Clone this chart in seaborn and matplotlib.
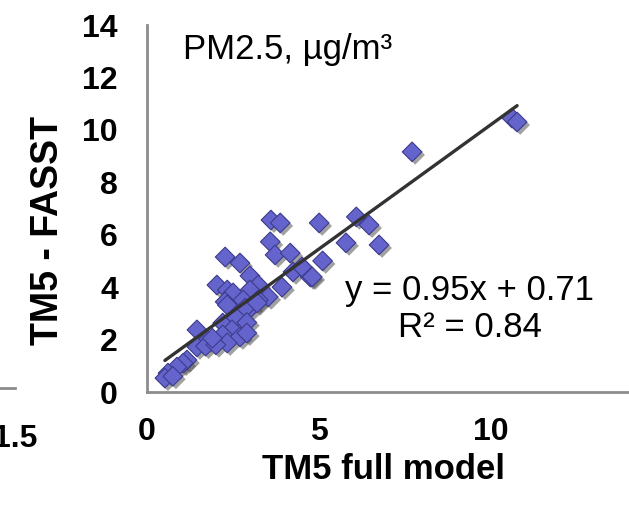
import matplotlib
matplotlib.use("Agg")
import matplotlib.pyplot as plt
import matplotlib.patheffects as pe
import numpy as np
import pandas as pd
import seaborn as sns

# TM5 full model vs TM5-FASST, PM2.5 (µg/m³) per receptor region
full_model = [10.6, 10.75, 7.7, 6.08, 6.45, 5.78, 6.74, 5.1, 4.53, 4.74, 5.0,
              3.6, 3.87, 3.58, 3.72, 4.16, 2.27, 2.7, 2.99, 2.03, 2.33, 2.5,
              3.23, 2.99, 3.52, 3.92, 4.24, 4.5, 4.8, 2.27, 3.23, 2.79, 3.0,
              2.33, 2.85, 3.2, 2.2, 2.6, 2.9, 1.45, 2.47, 2.2, 2.7, 2.9, 1.77,
              2.33, 1.45, 1.7, 1.16, 1.05, 0.87, 0.61, 0.52, 0.75, 2.0, 1.9]
fasst = [10.45, 10.3, 9.16, 6.68, 6.37, 5.69, 5.61, 5.0, 4.73, 4.39, 6.45,
         6.56, 6.45, 5.73, 5.23, 5.3, 5.15, 4.92, 4.43, 4.08, 3.89, 3.78,
         4.08, 3.89, 3.63, 4.0, 4.58, 4.77, 4.39, 3.44, 3.51, 3.51, 3.2,
         3.32, 3.2, 3.4, 2.63, 2.82, 2.65, 2.37, 2.37, 2.18, 2.1, 2.25, 1.98,
         1.87, 1.72, 1.75, 1.22, 1.1, 0.95, 0.72, 0.53, 0.6, 1.8, 2.05]

# linear trend reported on the chart
slope = 0.95
intercept = 0.71
r_squared = 0.84

x_ticks = [0, 5, 10]
y_ticks = [0, 2, 4, 6, 8, 10, 12, 14]

df = pd.DataFrame({"full": full_model, "fasst": fasst})

sns.set_style("white")
plt.rcParams["font.family"] = ["Liberation Sans", "DejaVu Sans"]
plt.rcParams["text.color"] = "black"
plt.rcParams["xtick.labelcolor"] = "black"
plt.rcParams["ytick.labelcolor"] = "black"

W, H = 629, 505
fig = plt.figure(figsize=(W / 100, H / 100), dpi=100)

axis_grey = "#8c8c8c"

# main scatter panel
ax = fig.add_axes([147 / W, 113 / H, 482 / W, 367 / H])
sns.scatterplot(data=df, x="full", y="fasst", ax=ax, marker="D", s=100,
                color="#6464cc", edgecolor="#3c3c8c", linewidth=0.8,
                zorder=3)
coll = ax.collections[-1]
coll.set_path_effects([pe.SimplePatchShadow(offset=(2.2, -2.2),
                                            shadow_rgbFace="#555555",
                                            alpha=0.55),
                       pe.Normal()])

xs = np.array([min(full_model), max(full_model)])
ax.plot(xs, slope * xs + intercept, color="#333333", lw=2.4, zorder=4)

ax.set_xlim(0, 14)
ax.set_ylim(0, 14)
ax.set_xticks(x_ticks)
ax.set_yticks(y_ticks)
ax.set_xlabel("")
ax.set_ylabel("")
for side in ("top", "right"):
    ax.spines[side].set_visible(False)
for side in ("left", "bottom"):
    ax.spines[side].set_color(axis_grey)
    ax.spines[side].set_linewidth(2)
ax.tick_params(axis="both", direction="out", length=9, width=2,
               color=axis_grey, labelcolor="black", labelsize=23, pad=12)
ax.tick_params(axis="x", pad=9)
for lab in ax.get_xticklabels() + ax.get_yticklabels():
    lab.set_fontweight("bold")

ax.text(0.49, -0.21, "TM5 full model", transform=ax.transAxes,
        ha="center", va="center", fontsize=25, fontweight="bold",
        color="black")
ax.text(-0.205, 0.44, "TM5 - FASST", transform=ax.transAxes, rotation=90,
        ha="center", va="center", fontsize=27, fontweight="bold",
        color="black")

ax.text(0.075, 0.932, "PM2.5, µg/m³", transform=ax.transAxes,
        ha="left", va="center", fontsize=25, color="black")
ax.text(0.67, 0.225,
        f"y = {slope:.2f}x + {intercept:.2f}\nR² = {r_squared:.2f}",
        transform=ax.transAxes, ha="center", va="center",
        multialignment="center", fontsize=25, linespacing=1.15,
        color="black")

# right end of the neighbouring panel's x axis
ax2 = fig.add_axes([-0.4, (505 - 388) / H, 0.4 + 15 / W, 0.3])
ax2.set_xlim(0, 1.5)
ax2.set_ylim(0, 1)
ax2.set_xticks([1.5])
ax2.set_xticklabels(["1.5"])
ax2.set_yticks([])
ax2.patch.set_visible(False)
for side in ("top", "right", "left"):
    ax2.spines[side].set_visible(False)
ax2.spines["bottom"].set_color(axis_grey)
ax2.spines["bottom"].set_linewidth(2)
ax2.tick_params(axis="x", direction="out", length=12, width=2,
                color=axis_grey, labelcolor="black", labelsize=23, pad=14)
for lab in ax2.get_xticklabels():
    lab.set_fontweight("bold")

fig.savefig("out.png", dpi=100)
